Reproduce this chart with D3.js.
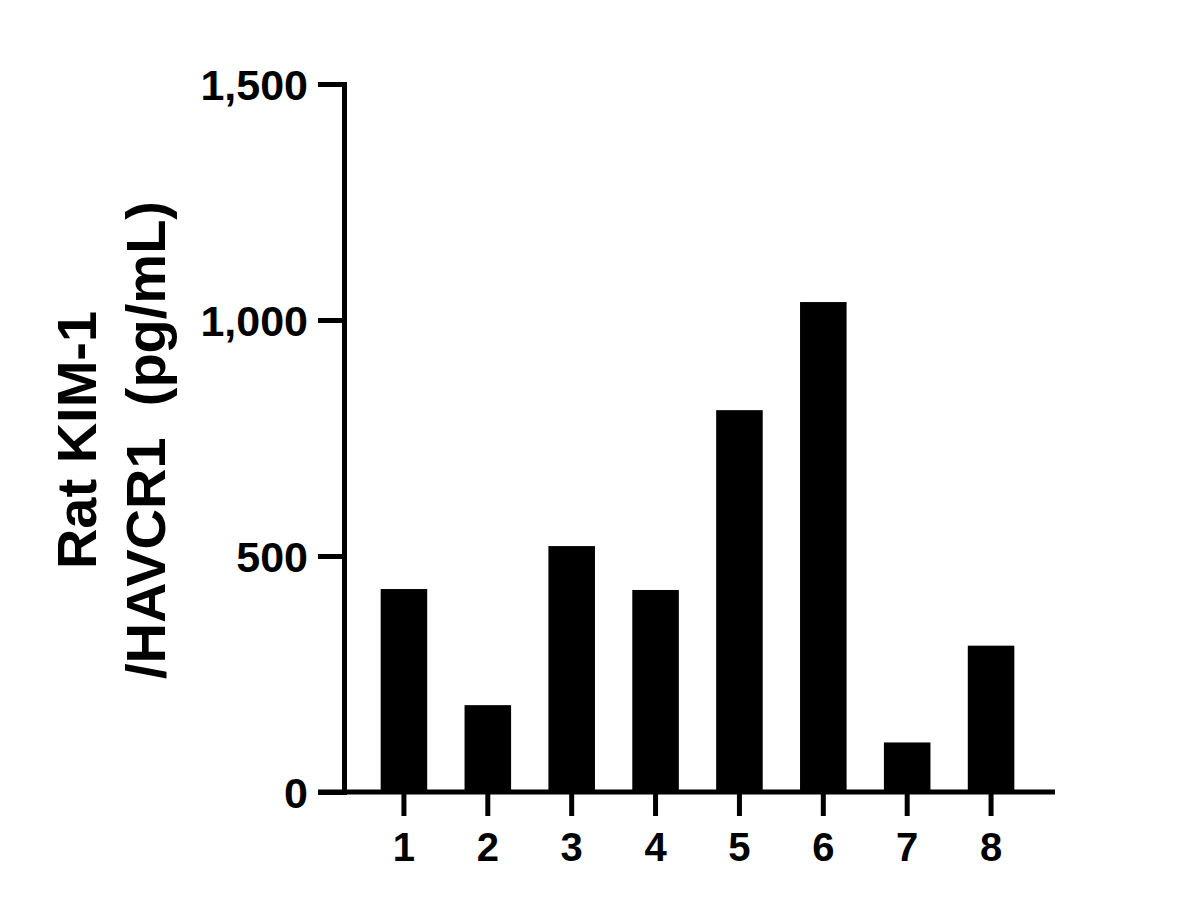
<!DOCTYPE html>
<html>
<head>
<meta charset="utf-8">
<script src="https://cdn.jsdelivr.net/npm/d3@7"></script>
<style>
  html, body { margin: 0; padding: 0; background: #fff; }
  svg { display: block; }
  text { font-family: "Liberation Sans", Arial, sans-serif; font-weight: bold; fill: #000; }
</style>
</head>
<body>
<svg id="chart" width="1190" height="908"></svg>
<script>
// ---- data ----
const categories = ["1", "2", "3", "4", "5", "6", "7", "8"];
const values = [430, 184, 521, 428, 809, 1038, 105, 310];
const yTicks = [0, 500, 1000, 1500];
const yTitleLines = ["Rat KIM-1", "/HAVCR1  (pg/mL)"];

// ---- layout ----
const W = 1190, H = 908;
const plotLeft = 344, plotRight = 1055, plotTop = 84, plotBottom = 792;
const tickLen = 26, xTickLen = 24, lineW = 5;

const svg = d3.select("#chart");

const y = d3.scaleLinear().domain([0, 1500]).range([plotBottom, plotTop]);
const x = d3.scaleBand().domain(categories).range([362, 1033])
  .paddingInner(0.445).paddingOuter(0.2225);

// bars
svg.append("g").selectAll("rect")
  .data(categories.map((c, i) => ({ c, v: values[i] })))
  .join("rect")
  .attr("x", d => x(d.c))
  .attr("width", x.bandwidth())
  .attr("y", d => y(d.v))
  .attr("height", d => y(0) - y(d.v))
  .attr("fill", "#000");

// y axis
const yAxis = svg.append("g")
  .attr("transform", `translate(${plotLeft},0)`)
  .call(d3.axisLeft(y).tickValues(yTicks).tickSize(tickLen).tickSizeOuter(0)
    .tickFormat(d3.format(",")));
yAxis.select(".domain").attr("stroke", "#000").attr("stroke-width", lineW)
  .attr("stroke-linecap", "square");
yAxis.selectAll(".tick line").attr("stroke", "#000").attr("stroke-width", lineW);
yAxis.selectAll(".tick text")
  .attr("x", -36).attr("dy", "0.36em")
  .style("font-size", "43px");

// x axis
const xAxis = svg.append("g")
  .attr("transform", `translate(0,${plotBottom})`)
  .call(d3.axisBottom(x).tickSize(xTickLen).tickSizeOuter(0));
xAxis.select(".domain").remove();
xAxis.append("line")
  .attr("x1", plotLeft - tickLen).attr("x2", plotRight)
  .attr("y1", 0).attr("y2", 0)
  .attr("stroke", "#000").attr("stroke-width", lineW);
xAxis.selectAll(".tick line").attr("stroke", "#000").attr("stroke-width", lineW);
xAxis.selectAll(".tick text")
  .attr("y", 69).attr("dy", null)
  .style("font-size", "40px");

// y title
const midY = (plotTop + plotBottom) / 2 + 2;
const titleBaselines = [96, 165];
yTitleLines.forEach((t, i) => {
  svg.append("text")
    .attr("transform", `translate(${titleBaselines[i]},${midY}) rotate(-90)`)
    .attr("text-anchor", "middle")
    .style("font-size", "56px")
    .style("white-space", "pre")
    .text(t);
});
</script>
</body>
</html>
